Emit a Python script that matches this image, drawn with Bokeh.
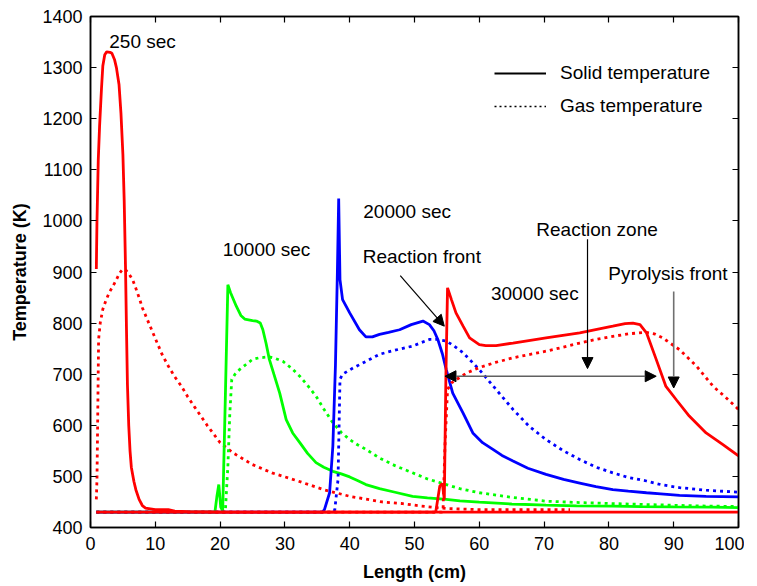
from bokeh.plotting import figure
from bokeh.models import (LinearAxis, Range1d, FixedTicker, Legend, LegendItem,
                          Arrow, NormalHead, Label)
from bokeh.embed import file_html
from bokeh.resources import INLINE

# ---------------- data ----------------
# 250 sec
x_250_solid = [0.9, 1.0, 1.2, 1.4, 1.7, 1.9, 2.2, 2.5, 3.0, 3.3, 3.7, 4.0, 4.4, 4.7, 5.0, 5.2, 5.4,
               5.55, 5.7, 5.9, 6.1, 6.3, 6.7, 7.0, 7.5, 8.0, 8.5, 9.0, 10, 12, 13, 15, 20, 30, 40,
               50, 60, 70, 80, 90, 100]
y_250_solid = [906, 1000, 1120, 1185, 1260, 1303, 1325, 1331, 1330, 1328, 1316, 1300, 1267, 1211,
               1130, 1040, 911, 790, 680, 600, 550, 518, 490, 474, 455, 443, 438, 437, 435, 435,
               432, 431, 430, 430, 430, 430, 430, 430, 430, 430, 430]
x_250_gas = [0.9, 1.0, 1.1, 1.25, 1.5, 1.9, 2.4, 2.9, 3.5, 4.0, 4.5, 5.0, 5.5, 6.0, 6.5, 7.0, 7.5,
             8.0, 9.0, 10, 11, 12, 13, 14, 15, 16, 18, 20, 22, 25, 28, 32, 36, 40, 45, 48, 51, 55,
             60, 65, 70, 74]
y_250_gas = [455, 494, 600, 768, 800, 827, 845, 860, 873, 885, 898, 906, 903, 895, 885, 868, 850,
             830, 800, 770, 740, 716, 695, 677, 656, 637, 600, 566, 546, 523, 507, 491, 474, 461,
             450, 447, 442, 437, 435, 435, 435, 435]

# 10000 sec
x_10000_solid = [0.9, 19.2, 19.5, 19.8, 20.1, 20.4, 20.8, 21.2, 21.6, 22.5, 23.2, 23.8, 25.0, 25.6,
                 26.2, 26.6, 27.1, 27.6, 28.3, 29.2, 30.2, 31.2, 32.3, 33.5, 34.8, 36.0, 37.4,
                 38.7, 40.0, 41.2, 42.5, 44.6, 47, 49.7, 52, 54.9, 57, 60, 65, 70.3, 75, 80.6, 85,
                 90, 96, 100]
y_10000_solid = [430, 430, 460, 484, 440, 432, 650, 875, 860, 833, 815, 808, 805, 804, 800, 787,
                 760, 729, 700, 663, 611, 585, 566, 545, 527, 518, 510, 505, 499, 492, 484, 476,
                 469, 461, 458, 455, 452, 449.5, 446, 443.7, 442.5, 441.7, 441, 440.5, 440, 439]
x_10000_gas = [0.9, 20.8, 21.2, 21.5, 21.8, 22.3, 23, 24, 25, 26, 27.6, 28.5, 29.7, 31, 32.3, 33.5,
               34.8, 36, 37.4, 38.7, 40, 41.2, 42.5, 44.6, 47, 49.7, 52, 54.9, 57, 60, 65, 70.3,
               75, 80, 85.7, 90, 95, 100]
y_10000_gas = [430, 430, 520, 624, 690, 700, 709, 719, 729, 732, 734, 731, 725, 712, 696, 678, 657,
               632, 605, 586, 572, 562, 553, 536, 521, 507, 495, 484, 476, 468, 459, 451.5, 449,
               447, 445, 443.5, 442, 441]

# 20000 sec
x_20000_solid = [0.9, 35.8, 36.1, 36.9, 37.4, 37.8, 38.1, 38.3, 38.5, 38.9, 40.0, 41.5, 42.5, 43.5,
                 44.6, 46, 47.7, 49.5, 51.3, 52.3, 53.0, 53.6, 54.3, 54.9, 55.9, 57.5, 59, 60.5,
                 62.1, 63.5, 65.2, 67.5, 70.3, 73, 75.5, 78, 80.6, 83, 85.8, 88, 90.9, 95, 100]
y_20000_solid = [430, 430, 435, 468, 559, 717, 900, 1044, 885, 846, 820, 787, 773, 773, 778, 782,
                 787, 797, 804, 797, 785, 768, 740, 709, 663, 624, 585, 566, 553, 541, 530, 516,
                 504, 494, 487, 480, 474, 471, 468, 466, 463, 461, 460]
x_20000_gas = [0.9, 37.4, 37.7, 38.2, 38.5, 38.9, 40.5, 42.5, 44.6, 47, 49.7, 52.3, 53.5, 54.9, 56,
               57.5, 60, 62.6, 65.2, 67.7, 70.3, 73, 75.5, 78, 80.6, 83, 85.8, 88, 90.9, 95, 100]
y_20000_gas = [430, 430, 435, 494, 690, 700, 712, 725, 739, 747, 755, 768, 768, 765, 756, 742, 709,
               670, 631, 598, 572, 550, 533, 518, 507, 498, 491, 484, 478, 473, 469]

# 30000 sec
x_30000_solid = [0.9, 53.0, 53.3, 53.9, 54.3, 54.6, 54.85, 55.1, 55.7, 56.4, 57.5, 58.5, 60, 61,
                 62.6, 65.2, 70.3, 75.5, 80.6, 82.5, 83.7, 84.8, 85.8, 87.3, 88.8, 90.4, 92.4, 95,
                 97.6, 100]
y_30000_solid = [430, 430, 432, 481, 486, 455, 700, 869, 846, 820, 794, 771, 758, 756, 756, 761,
                 771, 781, 794, 799, 800, 797, 781, 729, 676, 650, 618, 585, 562, 540]
x_30000_gas = [0.9, 54.2, 54.4, 54.7, 55.1, 55.7, 56.9, 58, 60, 62.5, 65.2, 67.5, 70.3, 73, 75.5,
               78, 80.6, 83, 85.8, 87, 88.3, 90.9, 93.5, 96.1, 98, 100]
y_30000_gas = [430, 430, 432, 560, 670, 683, 693, 702, 713, 723, 732, 738, 745, 753, 761, 768, 774,
               779, 782, 779, 771, 748, 716, 676, 655, 631]

y_ticks = [400, 500, 600, 700, 800, 900, 1000, 1100, 1200, 1300, 1400]
x_ticks = [0, 10, 20, 30, 40, 50, 60, 70, 80, 90, 100]

legend_labels = ["Solid temperature", "Gas temperature"]

# annotations: (text, x, y)
notes = [("250 sec", 2.9, 1351), ("10000 sec", 20.4, 945), ("20000 sec", 42.1, 1018),
         ("Reaction front", 42.0, 930), ("Reaction zone", 68.8, 984), ("Pyrolysis front", 79.9, 897),
         ("30000 sec", 61.8, 858)]

# arrows: (x_start, y_start, x_end, y_end, colour, double)
arrows = [(47.8, 893, 54.6, 794, "black", False),
          (76.7, 964, 76.7, 711, "black", False),
          (90.0, 862, 90.0, 673, "#707070", False),
          (54.7, 696, 87.3, 696, "#606060", True)]

FONT = "Liberation Sans"
RED, GREEN, BLUE = "#FF0000", "#00FF00", "#0000FF"
DOT = "3 4"
NAN = float("nan")

p = figure(frame_width=648, frame_height=511, x_range=Range1d(0, 100), y_range=Range1d(400, 1400),
           output_backend="svg", toolbar_location=None,
           min_border_left=90, min_border_top=16, min_border_right=6, min_border_bottom=40,
           x_axis_label="Length (cm)", y_axis_label="Temperature (K)")
p.grid.visible = False
p.outline_line_color = "black"
p.outline_line_width = 1.5

for ax in (p.xaxis[0], p.yaxis[0]):
    ax.major_tick_in = 6
    ax.major_tick_out = 0
    ax.minor_tick_line_color = None
    ax.axis_line_width = 1.5
    ax.major_tick_line_width = 1.2
    ax.major_label_text_font = FONT
    ax.major_label_text_font_size = "18px"
    ax.major_label_text_color = "black"
    ax.axis_label_text_font = FONT
    ax.axis_label_text_font_size = "18px"
    ax.axis_label_text_font_style = "bold"
    ax.axis_label_text_color = "black"
p.xaxis.ticker = FixedTicker(ticks=x_ticks)
p.yaxis.ticker = FixedTicker(ticks=y_ticks)
p.xaxis.major_label_standoff = 9
p.xaxis.axis_label_standoff = 9
p.yaxis.major_label_standoff = 8
p.yaxis.axis_label_standoff = 9

top = LinearAxis(ticker=FixedTicker(ticks=x_ticks), major_tick_in=6, major_tick_out=0,
                 minor_tick_line_color=None, major_label_text_font_size="1px",
                 major_label_text_color=None,
                 major_label_standoff=0, axis_line_width=1.5, major_tick_line_width=1.2)
right = LinearAxis(ticker=FixedTicker(ticks=y_ticks), major_tick_in=6, major_tick_out=0,
                   minor_tick_line_color=None, major_label_text_font_size="1px",
                   major_label_text_color=None,
                   major_label_standoff=0, axis_line_width=1.5, major_tick_line_width=1.2)
p.add_layout(top, "above")
p.add_layout(right, "right")

LW = 2.8
p.line(x_250_gas, y_250_gas, line_color=RED, line_width=LW, line_dash=DOT)
p.line(x_10000_solid, y_10000_solid, line_color=GREEN, line_width=LW)
p.line(x_10000_gas, y_10000_gas, line_color=GREEN, line_width=LW, line_dash=DOT)
p.line(x_20000_solid, y_20000_solid, line_color=BLUE, line_width=LW)
p.line(x_20000_gas, y_20000_gas, line_color=BLUE, line_width=LW, line_dash=DOT)
p.line(x_30000_gas, y_30000_gas, line_color=RED, line_width=LW, line_dash=DOT)
p.line(x_30000_solid, y_30000_solid, line_color=RED, line_width=LW)
p.line(x_250_solid, y_250_solid, line_color=RED, line_width=LW)

for txt, x, y in notes:
    p.add_layout(Label(x=x, y=y, text=txt, text_font=FONT, text_font_size="19px",
                       text_baseline="middle", text_align="left", text_color="black"))

for xs, ys, xe, ye, col, dbl in arrows:
    head = dict(size=11, fill_color="black", line_color="black", line_width=1)
    p.add_layout(Arrow(x_start=xs, y_start=ys, x_end=xe, y_end=ye, line_color=col,
                       line_width=1.2 if col == "black" else 1.6,
                       end=NormalHead(**head), start=NormalHead(**head) if dbl else None))

# legend-only renderers (NaN data draws nothing in the plot)
r_solid = p.line([NAN], [NAN], line_color="black", line_width=2)
r_gas = p.line([NAN], [NAN], line_color="black", line_width=1.6, line_dash="2 3")
legend = Legend(items=[LegendItem(label=legend_labels[0], renderers=[r_solid]),
                       LegendItem(label=legend_labels[1], renderers=[r_gas])],
                location=(404, 410), border_line_alpha=0, background_fill_alpha=0,
                glyph_width=52, glyph_height=20, label_height=20, label_standoff=14,
                spacing=11, padding=0, margin=0,
                label_text_font=FONT, label_text_font_size="19px", label_text_color="black")
p.add_layout(legend)

open("out.html", "w").write(file_html(p, INLINE))
